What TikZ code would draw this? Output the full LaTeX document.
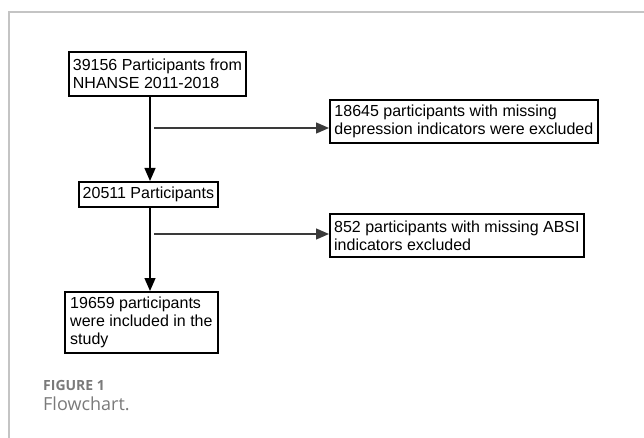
\documentclass[tikz,border=0pt]{standalone}
\usepackage{fontspec}
\setmainfont{Liberation Sans}
\newfontfamily\capfont{Open Sans}
\usetikzlibrary{arrows.meta,positioning,calc}
\definecolor{framec}{HTML}{C4C4C4}
\definecolor{capc}{HTML}{7A7A7A}
\definecolor{linec}{HTML}{3A3A3A}
\tikzset{
  >={Triangle[length=13pt,width=11pt]},
  box/.style={draw=black,line width=1.8pt,fill=white,anchor=north west,align=left,inner xsep=3pt,inner ysep=0pt,font=\fontsize{16}{18}\selectfont},
  flow/.style={->,line width=1.3pt,draw=black},
  side/.style={->,line width=1.3pt,draw=linec},
  frame/.style={draw=framec,line width=1.5pt},
  captxt/.style={anchor=base west,inner sep=0pt,text=capc,text depth=0pt},
}
\begin{document}
\begin{tikzpicture}[x=1pt,y=-1pt]
  \useasboundingbox (0,0) rectangle (644,438);
  % Rahmen
  \draw[frame] (9,438) -- (9,12) -- (644,12);
  % Kaesten
  \node[box,minimum width=177pt,minimum height=44pt] (start) at (68,51) {39156 Participants from\\NHANSE 2011-2018};
  \node[box,minimum width=139pt,minimum height=25pt] (mid) at (78,181) {20511 Participants};
  \node[box,minimum width=153pt,minimum height=61pt] (final) at (64,291) {19659 participants\\were included in the\\study};
  \node[box,minimum width=268pt,minimum height=43pt] (ex1) at (329,99) {18645 participants with missing\\depression indicators were excluded};
  \node[box,minimum width=254pt,minimum height=43pt] (ex2) at (329,213) {852 participants with missing ABSI\\indicators excluded};
  % Pfeile
  \coordinate (sp) at (150,0);
  \draw[flow] (sp |- start.south) -- (sp |- mid.north);
  \draw[flow] (sp |- mid.south) -- (sp |- final.north);
  \coordinate (j1) at (154,128);
  \coordinate (j2) at (154,234);
  \draw[side] (j1) -- (j1 -| ex1.west);
  \draw[side] (j2) -- (j2 -| ex2.west);
  % Bildunterschrift
  \node[captxt,text height=9pt] (fignum) at (43,390) {\fontsize{14}{16}\selectfont\capfont\bfseries FIGURE 1};
  \node[captxt,text height=11pt] (figcap) at (43,410) {\fontsize{18}{20}\selectfont\capfont Flowchart.};
\end{tikzpicture}
\end{document}
